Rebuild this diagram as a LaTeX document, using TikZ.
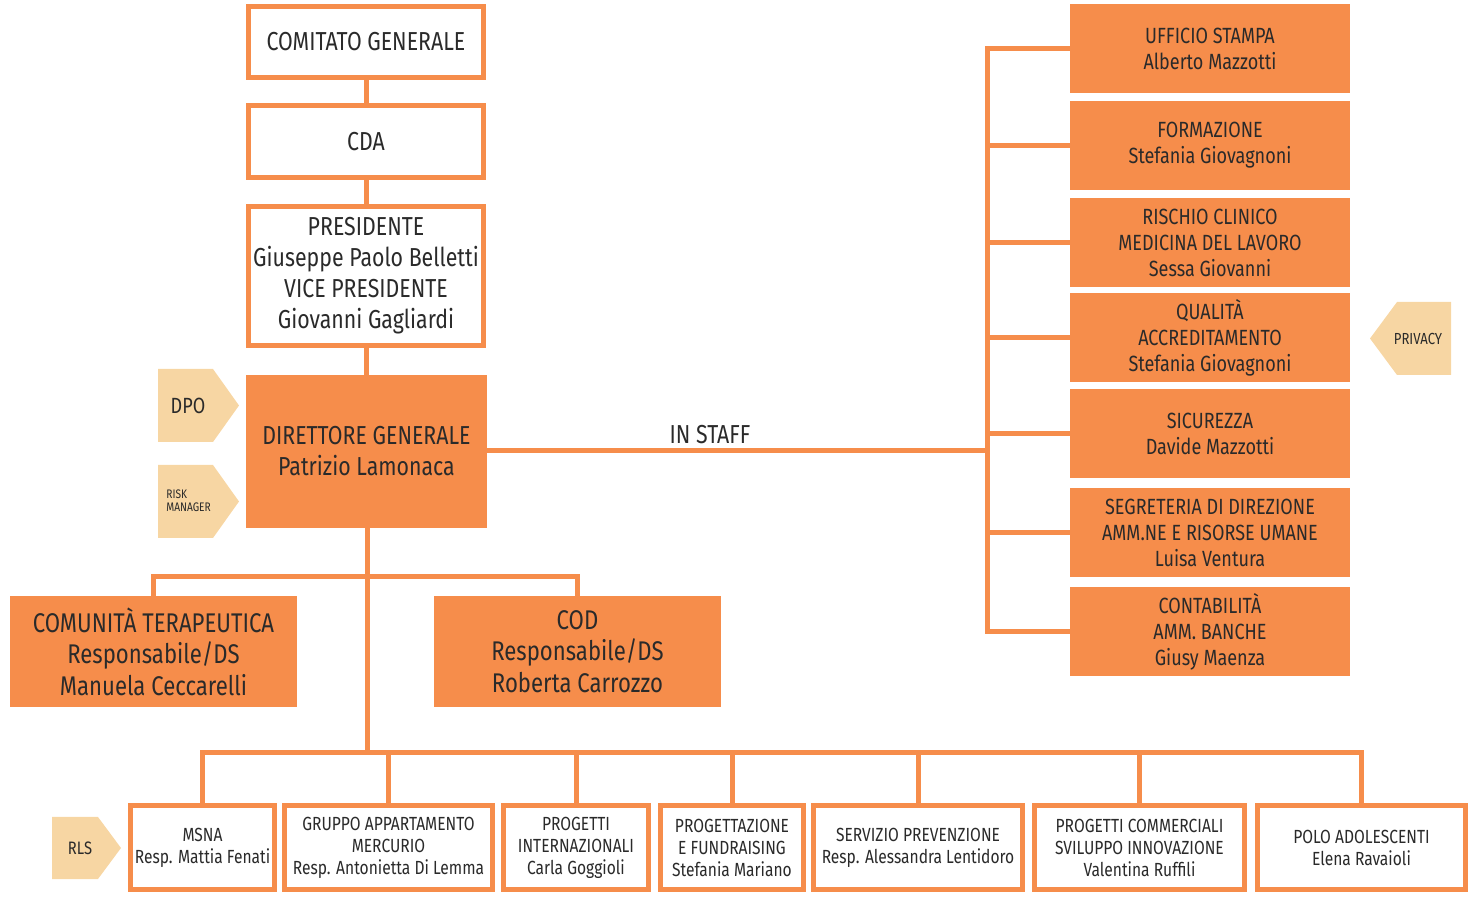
\documentclass[tikz,border=0pt]{standalone}
\usepackage{fontspec}
\setmainfont[FakeStretch=0.82]{Fira Sans}
\definecolor{org}{HTML}{F68D4B}
\definecolor{beige}{HTML}{F7D6A3}
\definecolor{ink}{HTML}{2A2A2A}
\begin{document}
\begin{tikzpicture}[x=0.5pt,y=-0.5pt,
  every node/.style={text=ink, align=center, inner sep=0pt},
  wbox/.style={draw=org, line width=2.5pt, fill=white, font=\fontsize{13}{15.5}\selectfont, minimum width=117.5pt},
  obox/.style={fill=org, outer sep=0pt},
  rbox/.style={obox, minimum width=140pt, minimum height=44.5pt, font=\fontsize{11}{13}\selectfont},
  bbox/.style={draw=org, line width=2.5pt, fill=white, minimum height=42pt, font=\fontsize{9.5}{11}\selectfont},
  conn/.style={draw=org, line width=2.5pt},
  tag/.style={fill=beige}
]
\useasboundingbox (0,0) rectangle (1479,897);

% top chain
\node[wbox, minimum height=35.5pt] (cg) at (366,42) {COMITATO GENERALE};
\node[wbox, minimum height=36pt] (cda) at (366,141.5) {CDA};
\node[wbox, minimum height=69.5pt] (pres) at (366,276) {PRESIDENTE\\Giuseppe Paolo Belletti\\VICE PRESIDENTE\\Giovanni Gagliardi};
\node[obox, minimum width=120.5pt, minimum height=76.5pt, font=\fontsize{13}{15.5}\selectfont] (dg) at (366.5,451.5) {DIRETTORE GENERALE\\Patrizio Lamonaca};

% side tags
\fill[tag] (158,369) -- (213,369) -- (239,405.5) -- (213,442) -- (158,442) -- cycle;
\node[font=\fontsize{11}{13}\selectfont] (dpo) at (188,405.5) {DPO};
\fill[tag] (158,465) -- (213,465) -- (239,501.5) -- (213,538) -- (158,538) -- cycle;
\node[font=\fontsize{6.2}{6.5}\selectfont, align=left, anchor=west] (risk) at (166,501) {RISK\\MANAGER};
\fill[tag] (1451,302) -- (1397,302) -- (1370,338.5) -- (1397,375) -- (1451,375) -- cycle;
\node[font=\fontsize{8}{9}\selectfont] (priv) at (1418,338.5) {PRIVACY};
\fill[tag] (52,817) -- (98,817) -- (121,848) -- (98,879) -- (52,879) -- cycle;
\node[font=\fontsize{9}{10}\selectfont] (rls) at (80,848) {RLS};

% middle units
\node[obox, minimum width=143.5pt, minimum height=55.5pt, font=\fontsize{13.5}{15.75}\selectfont] (ct) at (153.5,651.5) {COMUNITÀ TERAPEUTICA\\Responsabile/DS\\Manuela Ceccarelli};
\node[obox, minimum width=143.5pt, minimum height=55.5pt, font=\fontsize{13.5}{15.75}\selectfont] (cod) at (577.5,651.5) {COD\\Responsabile/DS\\Roberta Carrozzo};

% staff boxes
\node[rbox] (us) at (1210,48.5) {UFFICIO STAMPA\\Alberto Mazzotti};
\node[rbox] (form) at (1210,145.5) {FORMAZIONE\\Stefania Giovagnoni};
\node[rbox] (risc) at (1210,242.5) {RISCHIO CLINICO\\MEDICINA DEL LAVORO\\Sessa Giovanni};
\node[rbox] (qual) at (1210,337.5) {QUALITÀ\\ACCREDITAMENTO\\Stefania Giovagnoni};
\node[rbox] (sic) at (1210,433.5) {SICUREZZA\\Davide Mazzotti};
\node[rbox] (seg) at (1210,532.5) {SEGRETERIA DI DIREZIONE\\AMM.NE E RISORSE UMANE\\Luisa Ventura};
\node[rbox] (cont) at (1210,632) {CONTABILITÀ\\AMM. BANCHE\\Giusy Maenza};

% bottom boxes
\node[bbox, minimum width=72pt] (msna) at (202.5,847.5) {MSNA\\Resp. Mattia Fenati};
\node[bbox, minimum width=104pt] (gam) at (388.5,847.5) {GRUPPO APPARTAMENTO\\MERCURIO\\Resp. Antonietta Di Lemma};
\node[bbox, minimum width=72.5pt] (pi) at (576,847.5) {PROGETTI\\INTERNAZIONALI\\Carla Goggioli};
\node[bbox, minimum width=71.5pt] (pf) at (732,847.5) {PROGETTAZIONE\\E FUNDRAISING\\Stefania Mariano};
\node[bbox, minimum width=104.5pt] (sp) at (918,847.5) {SERVIZIO PREVENZIONE\\Resp. Alessandra Lentidoro};
\node[bbox, minimum width=105pt] (pc) at (1139.5,847.5) {PROGETTI COMMERCIALI\\SVILUPPO INNOVAZIONE\\Valentina Ruffili};
\node[bbox, minimum width=104pt] (polo) at (1361.5,847.5) {POLO ADOLESCENTI\\Elena Ravaioli};

% connectors
\coordinate (br) at (367,577);
\coordinate (bus) at (367,752.5);
\coordinate (st) at (987,451);
\draw[conn] (cg) -- (cda);
\draw[conn] (cda) -- (pres);
\draw[conn] (pres.south) -- (pres.south |- dg.north);
\draw[conn] (dg.south -| br) -- (bus);
\draw[conn] (br) -| (ct.north);
\draw[conn] (br) -| (cod.north);
\foreach \n in {msna,gam,pi,pf,sp,pc,polo} {\draw[conn] (bus) -| (\n.north);}
\draw[conn] (dg.east |- st) -- (st);
\draw[conn] (us.west) -| (st);
\draw[conn] (cont.west) -| (st);
\foreach \n in {form,risc,qual,sic,seg} {\draw[conn] (\n.west) -- (\n.west -| st);}
\node[font=\fontsize{13}{15.5}\selectfont] (instaff) at (710,435) {IN STAFF};
\end{tikzpicture}
\end{document}
